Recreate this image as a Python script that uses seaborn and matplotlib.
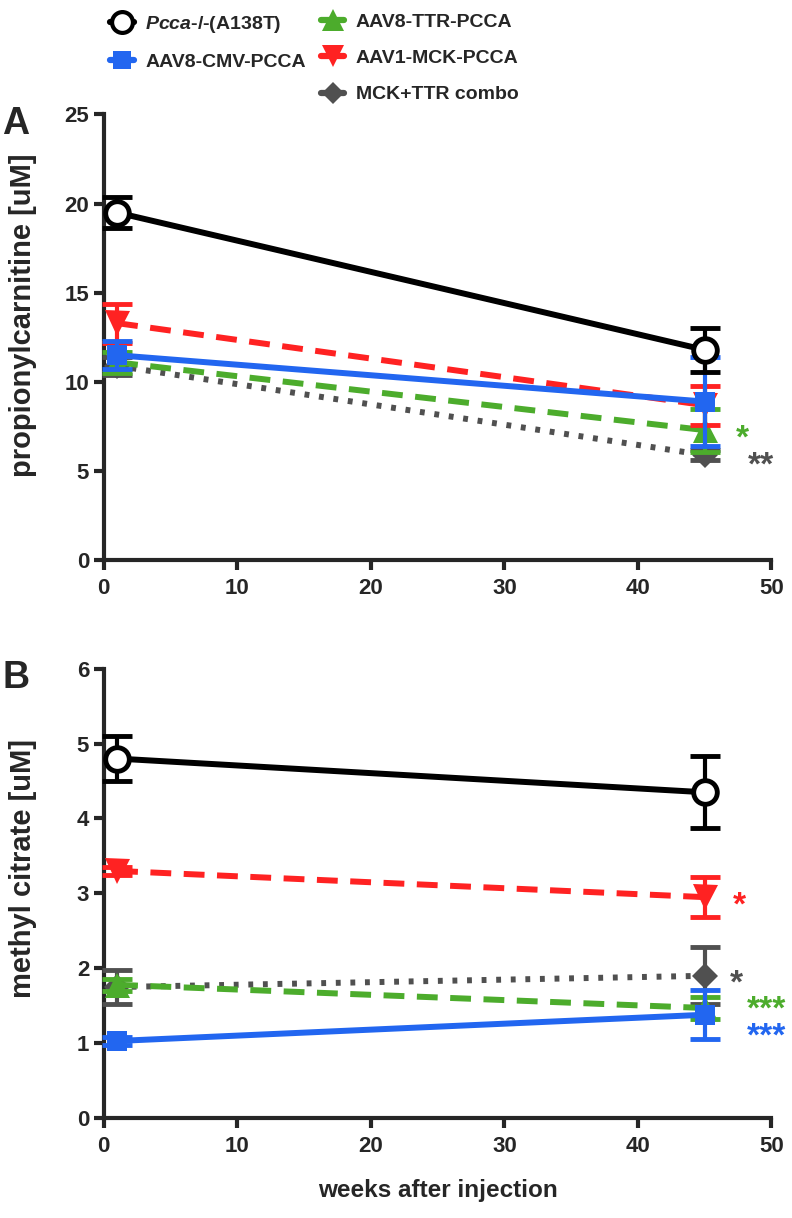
import numpy as np
import pandas as pd
import matplotlib
matplotlib.use('Agg')
import matplotlib.pyplot as plt
from matplotlib.lines import Line2D
import seaborn as sns

# data (mean, error bar half-width)
weeks = [1, 45]
groups = ['Pcca-/-(A138T)', 'AAV8-CMV-PCCA', 'AAV8-TTR-PCCA', 'AAV1-MCK-PCCA', 'MCK+TTR combo']

# panel A: propionylcarnitine [uM]
pcca_a = [19.5, 11.8]
pcca_a_err = [0.85, 1.25]
cmv_a = [11.5, 8.9]
cmv_a_err = [0.8, 2.5]
ttr_a = [11.1, 7.3]
ttr_a_err = [0.6, 1.2]
mck_a = [13.3, 8.7]
mck_a_err = [1.1, 1.1]
combo_a = [10.9, 5.9]
combo_a_err = [0.5, 0.3]

# panel B: methyl citrate [uM]
pcca_b = [4.8, 4.35]
pcca_b_err = [0.3, 0.48]
cmv_b = [1.03, 1.38]
cmv_b_err = [0.05, 0.33]
ttr_b = [1.78, 1.47]
ttr_b_err = [0.08, 0.15]
mck_b = [3.3, 2.95]
mck_b_err = [0.05, 0.27]
combo_b = [1.75, 1.9]
combo_b_err = [0.23, 0.38]

# significance stars: (text, group, x, y)
stars_a = [('*', 'AAV8-TTR-PCCA', 47.8, 7.0), ('**', 'MCK+TTR combo', 49.2, 5.5)]
stars_b = [('*', 'AAV1-MCK-PCCA', 47.6, 2.88), ('*', 'MCK+TTR combo', 47.4, 1.84),
           ('***', 'AAV8-TTR-PCCA', 49.6, 1.49), ('***', 'AAV8-CMV-PCCA', 49.6, 1.13)]

colors = {'Pcca-/-(A138T)': '#000000', 'AAV8-CMV-PCCA': '#2266f0', 'AAV8-TTR-PCCA': '#4cac2c',
          'AAV1-MCK-PCCA': '#ff2222', 'MCK+TTR combo': '#505050'}
markers = {'Pcca-/-(A138T)': 'o', 'AAV8-CMV-PCCA': 's', 'AAV8-TTR-PCCA': '^',
           'AAV1-MCK-PCCA': 'v', 'MCK+TTR combo': 'D'}
msizes = {'Pcca-/-(A138T)': 17, 'AAV8-CMV-PCCA': 15, 'AAV8-TTR-PCCA': 18,
          'AAV1-MCK-PCCA': 18, 'MCK+TTR combo': 13}
lstyles = {'Pcca-/-(A138T)': '-', 'AAV8-CMV-PCCA': '-', 'AAV8-TTR-PCCA': (0, (15, 9)),
           'AAV1-MCK-PCCA': (0, (15, 9)), 'MCK+TTR combo': (0, (3.5, 7))}

sns.set_style('ticks')
plt.rcParams['font.family'] = ['Liberation Sans', 'DejaVu Sans']
plt.rcParams['font.weight'] = 'bold'
plt.rcParams['mathtext.fontset'] = 'custom'
plt.rcParams['mathtext.it'] = 'Liberation Sans:italic:bold'
plt.rcParams['mathtext.rm'] = 'Liberation Sans:bold'
plt.rcParams['lines.scale_dashes'] = False

fig = plt.figure(figsize=(7.92, 12.18), dpi=100)
ax_a = fig.add_axes([0.131, 0.540, 0.843, 0.366])
ax_b = fig.add_axes([0.131, 0.082, 0.843, 0.369])

order = ['Pcca-/-(A138T)', 'AAV8-CMV-PCCA', 'AAV8-TTR-PCCA', 'AAV1-MCK-PCCA', 'MCK+TTR combo']
draw_order = ['MCK+TTR combo', 'AAV8-TTR-PCCA', 'AAV1-MCK-PCCA', 'AAV8-CMV-PCCA', 'Pcca-/-(A138T)']


def make_df(vals, errs):
    rows = []
    for g, v, e in zip(groups, vals, errs):
        for w, m, s in zip(weeks, v, e):
            rows.append({'group': g, 'weeks': w, 'value': m, 'err': s})
    return pd.DataFrame(rows)


df_a = make_df([pcca_a, cmv_a, ttr_a, mck_a, combo_a],
               [pcca_a_err, cmv_a_err, ttr_a_err, mck_a_err, combo_a_err])
df_b = make_df([pcca_b, cmv_b, ttr_b, mck_b, combo_b],
               [pcca_b_err, cmv_b_err, ttr_b_err, mck_b_err, combo_b_err])


def draw_panel(ax, df, ymax, ylabel, label_y, label_size, stars, letter):
    for z, g in enumerate(draw_order):
        sub = df[df['group'] == g]
        c = colors[g]
        ax.errorbar(sub['weeks'], sub['value'], yerr=sub['err'], fmt='none', ecolor=c,
                    elinewidth=3, capsize=11, capthick=3.5, zorder=3 + z, clip_on=False)
        sns.lineplot(data=sub, x='weeks', y='value', ax=ax, color=c, linewidth=4.3,
                     linestyle=lstyles[g], marker=markers[g], markersize=msizes[g],
                     markerfacecolor='white' if g == 'Pcca-/-(A138T)' else c,
                     markeredgecolor=c, markeredgewidth=3.5 if g == 'Pcca-/-(A138T)' else 0,
                     label=g, zorder=3 + z, clip_on=False, legend=False)
    for txt, g, x, y in stars:
        ax.text(x, y, txt, color=colors[g], fontsize=24, fontweight='bold',
                ha='center', va='center_baseline')
    ax.set_xlim(0, 50)
    ax.set_ylim(0, ymax)
    ax.set_xticks(range(0, 51, 10))
    ax.set_xlabel('')
    ax.set_ylabel(ylabel, fontsize=label_size, fontweight='bold')
    ax.yaxis.set_label_coords(-0.1, label_y)
    sns.despine(ax=ax)
    for s in ['left', 'bottom']:
        ax.spines[s].set_linewidth(3)
    ax.tick_params(axis='both', labelsize=16, width=3, length=7, direction='out')
    ax.tick_params(axis='x', pad=6)
    for lab in ax.get_xticklabels() + ax.get_yticklabels():
        lab.set_fontweight('bold')
    ax.text(-0.152, 1.02, letter, transform=ax.transAxes, fontsize=27,
            fontweight='bold', ha='left', va='top')


draw_panel(ax_a, df_a, 25, 'propionylcarnitine [uM]', 0.55, 21, stars_a, 'A')
draw_panel(ax_b, df_b, 6, 'methyl citrate [uM]', 0.555, 21, stars_b, 'B')
ax_a.set_yticks(range(0, 26, 5))
ax_b.set_yticks(range(0, 7, 1))
ax_b.set_xlabel('weeks after injection', fontsize=17.5, fontweight='bold', labelpad=16)

# legend: two separate columns
handles = {}
for g in order:
    handles[g] = Line2D([], [], color=colors[g], linewidth=4.5, marker=markers[g],
                        markersize=msizes[g] - 2,
                        markerfacecolor='white' if g == 'Pcca-/-(A138T)' else colors[g],
                        markeredgecolor=colors[g],
                        markeredgewidth=3 if g == 'Pcca-/-(A138T)' else 0)
names = {g: g for g in order}
names['Pcca-/-(A138T)'] = r'$\mathit{Pcca}$-/-(A138T)'

leg_kw = dict(loc='upper left', frameon=False, fontsize=14, handlelength=1.2,
              handletextpad=0.6, labelspacing=0.95, borderpad=0.2)
col1 = ['Pcca-/-(A138T)', 'AAV8-CMV-PCCA']
col2 = ['AAV8-TTR-PCCA', 'AAV1-MCK-PCCA', 'MCK+TTR combo']
leg1 = fig.legend([handles[g] for g in col1], [names[g] for g in col1],
                  bbox_to_anchor=(0.122, 1.0), **leg_kw)
leg2 = fig.legend([handles[g] for g in col2], [names[g] for g in col2],
                  bbox_to_anchor=(0.388, 1.0), **leg_kw)
for leg in (leg1, leg2):
    for t in leg.get_texts():
        t.set_fontweight('bold')

fig.savefig('out.png', dpi=100)
